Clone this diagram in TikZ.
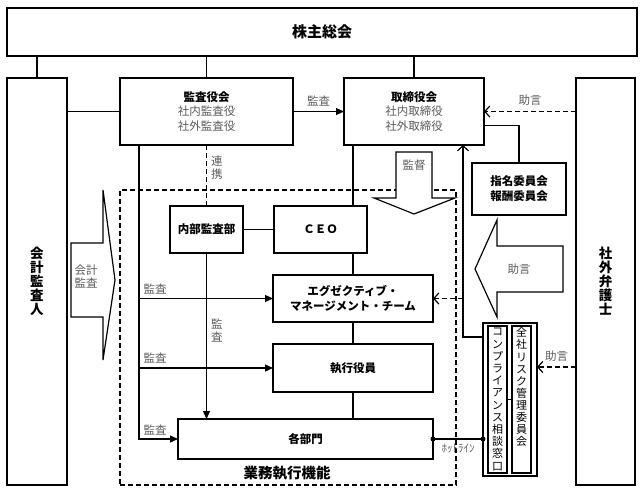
\documentclass[tikz,border=0pt]{standalone}
\usepackage{fontspec}
\setmainfont{Noto Sans CJK JP}
\usetikzlibrary{arrows.meta, positioning}
\definecolor{subgray}{HTML}{5C5C5C}
\newcommand{\subtxt}[1]{{\mdseries\color{subgray}#1}}

\begin{document}
\begin{tikzpicture}[x=1pt, y=-1pt, line width=1.2pt,
  box/.style={draw, fill=white, rectangle, inner sep=0pt, outer sep=0pt, align=center, font=\bfseries\fontsize{11.5}{14.5}\selectfont},
  sub/.style={text=subgray, inner sep=0pt, align=center, font=\fontsize{11.5}{13}\selectfont},
  tate/.style={inner sep=0pt, align=center},
  bigarrow/.style={draw, fill=white},
  advice/.style={dash pattern=on 5pt off 3pt, -{Straight Barb[length=5pt, width=11pt]}},
  auditarrow/.style={-{Triangle[length=8pt, width=7pt]}}
]
\useasboundingbox (0,0) rectangle (641,493);

% business execution frame
\node[draw, dash pattern=on 5pt off 3pt, minimum width=336pt, minimum height=295pt, inner sep=0pt] (gyomu) at (288,337.5) {};
\node[font=\bfseries\fontsize{14.5}{16}\selectfont, inner sep=0pt] (gyomulbl) at (287,473) {業務執行機能};

% top level
\node[box, minimum width=630pt, minimum height=48pt, font=\bfseries\fontsize{15}{18}\selectfont] (kabunushi) at (322,32) {株主総会};
\node[box, minimum width=60pt, minimum height=407pt, font=\bfseries\fontsize{13.5}{14}\selectfont] (kaikei) at (37,281.5) {会\\計\\監\\査\\人};
\node[box, minimum width=173pt, minimum height=67pt] (kansayaku) at (206.5,111.5) {監査役会\\\subtxt{社内監査役}\\\subtxt{社外監査役}};
\node[box, minimum width=140pt, minimum height=67pt] (torishimari) at (414,111.5) {取締役会\\\subtxt{社内取締役}\\\subtxt{社外取締役}};
\node[box, minimum width=59pt, minimum height=407pt, font=\bfseries\fontsize{13.5}{14}\selectfont] (bengoshi) at (605.5,281.5) {社\\外\\弁\\護\\士};
\node[box, minimum width=94pt, minimum height=52pt, font=\bfseries\fontsize{11.5}{15}\selectfont] (shimei) at (519,189) {指名委員会\\報酬委員会};

% execution side
\node[box, minimum width=73pt, minimum height=47pt] (naibu) at (206.5,229.5) {内部監査部};
\node[box, minimum width=93pt, minimum height=47pt] (ceo) at (320.5,229.5) {ＣＥＯ};
\node[box, minimum width=160pt, minimum height=47pt, font=\bfseries\fontsize{11.5}{15.5}\selectfont] (emt) at (353,298.5) {エグゼクティブ・\\マネージメント・チーム};
\node[box, minimum width=160pt, minimum height=48pt] (shikko) at (353,368) {執行役員};
\node[box, minimum width=255pt, minimum height=40pt] (kakubu) at (305.5,439) {各部門};

% compliance
\node[box, minimum width=54pt, minimum height=153pt] (comp) at (510,399.5) {};
\node[box, minimum width=19pt, minimum height=147pt, font=\fontsize{11}{12.2}\selectfont] (soudan) at (497.5,399.5) {コ\\ン\\プ\\ラ\\イ\\ア\\ン\\ス\\相\\談\\窓\\口};
\node[box, minimum width=19pt, minimum height=147pt] (risk) at (521.5,399.5) {};
\node[tate, anchor=north, font=\fontsize{11}{12.1}\selectfont] (risklbl) at ([yshift=-1pt]risk.north) {全\\社\\リ\\ス\\ク\\管\\理\\委\\員\\会};
\draw (soudan.east) -- (risk.west);

% lines from the general meeting
\draw (kabunushi.south -| kaikei.north) -- (kaikei.north);
\draw (kabunushi.south -| kansayaku.north) -- (kansayaku.north);
\draw (kabunushi.south -| torishimari.north) -- (torishimari.north);

\draw (kaikei.east |- kansayaku.west) -- (kansayaku.west);
\draw[auditarrow] (kansayaku.east) -- (torishimari.west) node[sub, midway, above=5pt] {監査};
\draw[advice] (bengoshi.west |- torishimari.east) -- (torishimari.east) node[sub, midway, above=5pt] {助言};
\draw ([yshift=-14pt]torishimari.east) -| (shimei.north);

% board to execution
\draw (emt.north |- torishimari.south) -- (emt.north |- ceo.north);
\draw (emt.north |- ceo.south) -- (emt.north);
\draw (emt.south) -- (shikko.north);
\draw (shikko.south) -- (shikko.south |- kakubu.north);
\draw (naibu.east) -- (ceo.west);

% cooperation and internal audit
\draw[dash pattern=on 5pt off 3pt] (kansayaku.south -| naibu.north) -- (naibu.north) node[sub, tate, midway, right=4pt, yshift=8pt] {連\\携};
\draw[auditarrow] (naibu.south) -- (naibu.south |- kakubu.north) node[sub, tate, pos=0.47, right=4pt] {監\\査};

% audit by the board of auditors
\coordinate (audit) at (139,145);
\draw[auditarrow] (audit) |- (kakubu.west);
\draw[auditarrow] (audit |- emt.west) -- (emt.west);
\draw[auditarrow] (audit |- shikko.west) -- (shikko.west);
\node[sub] (k1) at (155,289) {監査};
\node[sub] (k2) at (155,358) {監査};
\node[sub] (k3) at (155,430) {監査};

% compliance feedback
\coordinate (fb) at (463,337);
\draw[-{Straight Barb[length=5pt, width=11pt]}] (comp.west |- fb) -- (fb) -- (fb |- torishimari.south);
\draw[advice] (fb |- emt.east) -- (emt.east);
\draw[advice] (bengoshi.west |- 0,367) -- (comp.east |- 0,367) node[sub, midway, above=5pt] {助言};

% hotline
\draw (kakubu.east) -- (comp.west |- kakubu.east) node[sub, midway, below=4pt, font=\fontsize{11}{12}\selectfont] {ﾎｯﾄﾗｲﾝ};
\fill (kakubu.east) circle (2.5pt);
\fill (comp.west |- kakubu.east) circle (2.5pt);

% block arrows
\draw[bigarrow] (396,152) -- (432,152) -- (432,198) -- (455,198) -- (414,214) -- (374,198) -- (396,198) -- cycle;
\node[sub] (kantoku) at (414,165) {監督};
\draw[bigarrow] (71,243) -- (103,243) -- (103,190) -- (115,280) -- (103,360) -- (103,317) -- (71,317) -- cycle;
\node[sub] (kaikeikansa) at (86,277) {会計\\監査};
\draw[bigarrow] (563,246) -- (497,246) -- (497,220) -- (475,269) -- (497,317) -- (497,292) -- (563,292) -- cycle;
\node[sub] (jogen) at (519,269) {助言};
\end{tikzpicture}
\end{document}
